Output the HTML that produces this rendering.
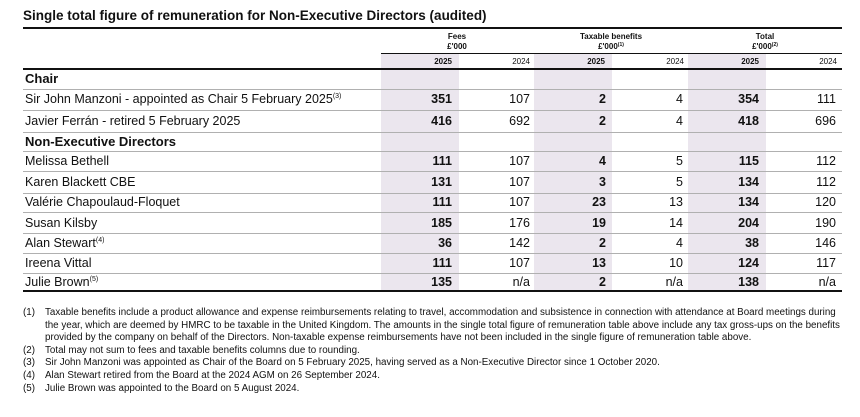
<!DOCTYPE html>
<html><head><meta charset="utf-8"><style>
body{margin:0;width:860px;height:417px;background:#fff;font-family:"Liberation Sans",sans-serif;color:#111;position:relative;overflow:hidden}
.a{position:absolute;white-space:nowrap}
.sh{position:absolute;background:#ebe6ee;top:54px;height:237px;width:78px}
.hl{position:absolute;left:23px;width:819px;height:1px;background:#b0b0b0}
.bl{position:absolute;height:2px;background:#111}
.n{position:absolute;text-align:right;font-size:12.5px;width:70px}
.b{font-weight:bold}
.h{position:absolute;font-size:8px;font-weight:bold;text-align:center;width:120px;line-height:10px}
.y{position:absolute;font-size:8px;text-align:right;width:60px;top:57px}
.f{position:absolute;font-size:9.8px;line-height:12.6px;white-space:nowrap}
sup{font-size:7px;vertical-align:5px;line-height:0}
</style></head><body>
<div class="a b" style="left:23px;top:8px;font-size:13.5px">Single total figure of remuneration for Non-Executive Directors (audited)</div>
<div class="bl" style="left:23px;width:819px;top:27px"></div>
<div class="sh" style="left:381px"></div><div class="sh" style="left:534px"></div><div class="sh" style="left:688px"></div>
<div class="bl" style="left:381px;width:461px;top:53px;height:1px"></div>
<div class="h" style="left:397px;top:32px">Fees<br>£'000</div>
<div class="h" style="left:551px;top:32px">Taxable benefits<br>£'000<sup style="font-size:5px;vertical-align:3px">(1)</sup></div>
<div class="h" style="left:705px;top:32px">Total<br>£'000<sup style="font-size:5px;vertical-align:3px">(2)</sup></div>
<div class="y b" style="left:392px">2025</div><div class="y" style="left:470px">2024</div>
<div class="y b" style="left:545px">2025</div><div class="y" style="left:624px">2024</div>
<div class="y b" style="left:699px">2025</div><div class="y" style="left:777px">2024</div>
<div class="bl" style="left:23px;width:819px;top:68px"></div>
<div class="hl" style="top:89px"></div><div class="hl" style="top:110px"></div><div class="hl" style="top:132px"></div><div class="hl" style="top:151px"></div><div class="hl" style="top:171px"></div><div class="hl" style="top:193px"></div><div class="hl" style="top:212px"></div><div class="hl" style="top:233px"></div><div class="hl" style="top:253px"></div><div class="hl" style="top:273px"></div>
<div class="bl" style="left:23px;width:819px;top:290px"></div>
<div class="a b" style="left:25px;top:71px;font-size:13px">Chair</div>
<div class="a b" style="left:25px;top:134px;font-size:13px">Non-Executive Directors</div>
<div id="rows"></div>
<script>
var R=[[92,"Sir John Manzoni - appointed as Chair 5 February 2025<sup>(3)</sup>","351","107","2","4","354","111"],
[114,"Javier Ferrán - retired 5 February 2025","416","692","2","4","418","696"],
[154,"Melissa Bethell","111","107","4","5","115","112"],
[175,"Karen Blackett CBE","131","107","3","5","134","112"],
[195,"Valérie Chapoulaud-Floquet","111","107","23","13","134","120"],
[216,"Susan Kilsby","185","176","19","14","204","190"],
[236,"Alan Stewart<sup>(4)</sup>","36","142","2","4","38","146"],
[256,"Ireena Vittal","111","107","13","10","124","117"],
[275,"Julie Brown<sup>(5)</sup>","135","n/a","2","n/a","138","n/a"]];
var xs=[452,530,606,683,759,836],h="";
R.forEach(function(r){h+='<div class="a" style="left:25px;top:'+r[0]+'px;font-size:12.5px">'+r[1]+'</div>';
for(var i=0;i<6;i++)h+='<div class="n'+(i%2==0?' b':'')+'" style="left:'+(xs[i]-70)+'px;top:'+r[0]+'px">'+r[i+2]+'</div>';});
document.getElementById("rows").innerHTML=h;
</script>
<div class="f" style="left:23px;top:307px">(1)<br><br><br>(2)<br>(3)<br>(4)<br>(5)</div>
<div class="f" style="left:45px;top:307px">Taxable benefits include a product allowance and expense reimbursements relating to travel, accommodation and subsistence in connection with attendance at Board meetings during<br>the year, which are deemed by HMRC to be taxable in the United Kingdom. The amounts in the single total figure of remuneration table above include any tax gross-ups on the benefits<br>provided by the company on behalf of the Directors. Non-taxable expense reimbursements have not been included in the single figure of remuneration table above.<br>Total may not sum to fees and taxable benefits columns due to rounding.<br>Sir John Manzoni was appointed as Chair of the Board on 5 February 2025, having served as a Non-Executive Director since 1 October 2020.<br>Alan Stewart retired from the Board at the 2024 AGM on 26 September 2024.<br>Julie Brown was appointed to the Board on 5 August 2024.</div>
</body></html>
